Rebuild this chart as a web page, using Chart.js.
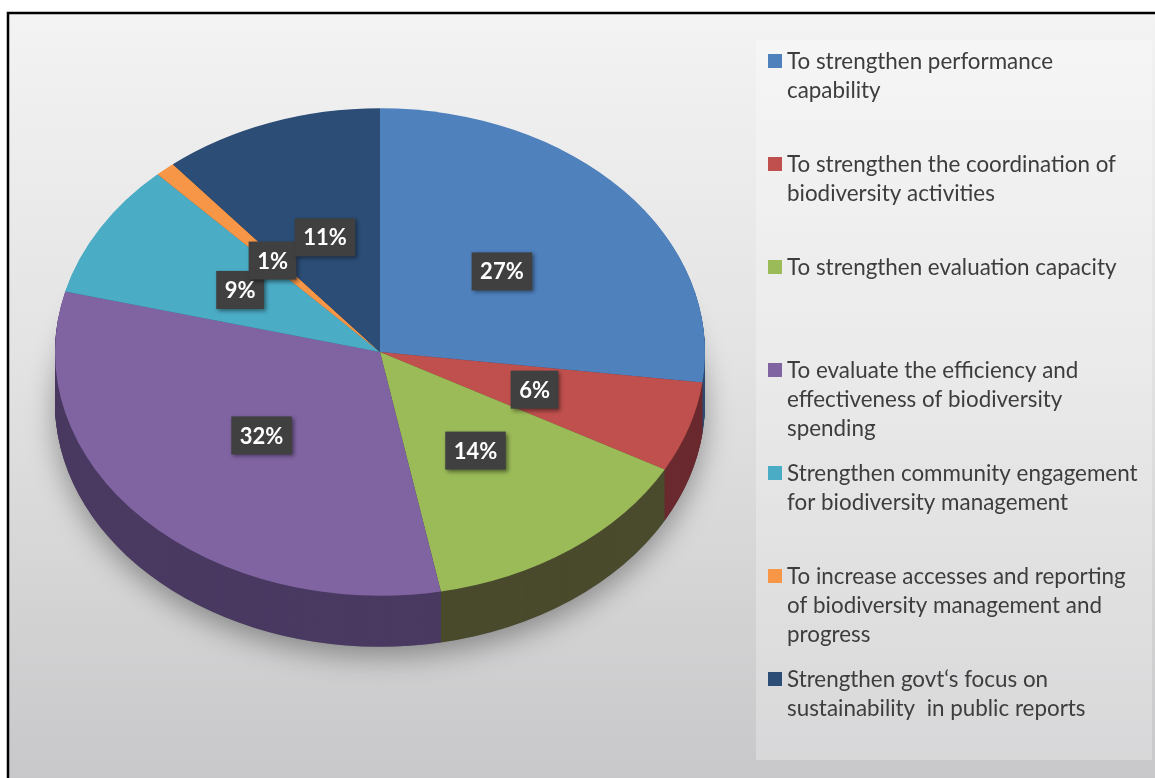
<!DOCTYPE html>
<html>
<head>
<meta charset="utf-8">
<script src="https://cdn.jsdelivr.net/npm/chart.js@4.4.1/dist/chart.umd.min.js"></script>
<style>
  html, body { margin: 0; padding: 0; background: #fff; }
  canvas { display: block; }
</style>
</head>
<body>
<canvas id="pieChart" width="1155" height="778"></canvas>
<script>
// 图例文字（已按原图换行）
const categories = [
    ['To strengthen performance', 'capability'],
    ['To strengthen the coordination of', 'biodiversity activities'],
    ['To strengthen evaluation capacity'],
    ['To evaluate the efficiency and', 'effectiveness of biodiversity', 'spending'],
    ['Strengthen community engagement', 'for biodiversity management'],
    ['To increase accesses and reporting', 'of biodiversity management and', 'progress'],
    ['Strengthen govt‘s focus on', 'sustainability  in public reports']
];
// 各项占比 (%)
const shares = [27, 6, 14, 32, 9, 1, 11];
const sliceColors = ['#4f81bd', '#c0504d', '#9bbb59', '#8064a2', '#4bacc6', '#f79646', '#2c4d75'];
const sideColors = ['#2f4c72', '#6a2a2f', '#4a4b2d', '#4a3a62', '#2c6474', '#8c5427', '#1c3049'];

const TILT = 0.75;    // 椭圆压扁比例
const DEPTH = 51;     // 侧面厚度（像素）

// 背景、边框和图例面板
function drawBackground(chart) {
    const ctx = chart.ctx;
    const w = chart.width, h = chart.height;
    ctx.save();
    ctx.fillStyle = '#ffffff';
    ctx.fillRect(0, 0, w, h);
    const grad = ctx.createLinearGradient(0, 13, 0, h);
    grad.addColorStop(0, '#f3f3f3');
    grad.addColorStop(0.45, '#e3e3e3');
    grad.addColorStop(1, '#c8c8ca');
    ctx.fillStyle = grad;
    ctx.fillRect(8, 13, w, h);
    // 图例面板
    ctx.fillStyle = 'rgba(255,255,255,0.28)';
    ctx.fillRect(756, 40, 396, 720);
    ctx.strokeStyle = '#000';
    ctx.lineWidth = 2.5;
    ctx.strokeRect(8, 13, w + 20, h + 20);
    ctx.restore();
}

const pie3d = {
    id: 'pie3d',
    beforeDraw(chart) {
        drawBackground(chart);
    },
    beforeDatasetsDraw(chart) {
        const ctx = chart.ctx;
        const arcs = chart.getDatasetMeta(0).data;
        const cx = arcs[0].x, cy = arcs[0].y, r = arcs[0].outerRadius;
        ctx.save();
        ctx.translate(cx, cy);
        ctx.scale(1, TILT);
        ctx.translate(-cx, -cy);
        const dy = DEPTH / TILT;

        // 底部阴影
        ctx.save();
        ctx.shadowColor = 'rgba(0,0,0,0.35)';
        ctx.shadowBlur = 28;
        ctx.shadowOffsetY = 10;
        ctx.fillStyle = '#777';
        ctx.beginPath();
        ctx.arc(cx, cy + dy, r, 0, Math.PI * 2);
        ctx.fill();
        ctx.restore();

        // 侧面：从最底层往上一层层画
        for (let d = dy; d > 0; d -= 1) {
            arcs.forEach((a, i) => {
                ctx.fillStyle = sideColors[i];
                ctx.beginPath();
                ctx.moveTo(cx, cy + d);
                ctx.arc(cx, cy + d, r, a.startAngle, a.endAngle);
                ctx.closePath();
                ctx.fill();
            });
        }
    },
    afterDatasetsDraw(chart) {
        const ctx = chart.ctx;
        ctx.restore();

        // 数据标签
        const arcs = chart.getDatasetMeta(0).data;
        ctx.save();
        ctx.font = 'bold 22px Lato';
        ctx.textAlign = 'center';
        ctx.textBaseline = 'middle';
        arcs.forEach((a, i) => {
            const mid = (a.startAngle + a.endAngle) / 2;
            const px = a.x + Math.cos(mid) * a.outerRadius * 0.5;
            const py = a.y + Math.sin(mid) * a.outerRadius * 0.5 * TILT;
            const text = shares[i] + '%';
            const tw = ctx.measureText(text).width;
            const bw = tw + 17, bh = 38;
            ctx.save();
            ctx.shadowColor = 'rgba(0,0,0,0.45)';
            ctx.shadowBlur = 4;
            ctx.shadowOffsetX = 2;
            ctx.shadowOffsetY = 2;
            ctx.fillStyle = '#404040';
            ctx.fillRect(px - bw / 2, py - bh / 2, bw, bh);
            ctx.restore();
            ctx.fillStyle = '#ffffff';
            ctx.fillText(text, px, py + 1);
        });
        ctx.restore();
    },
    afterDraw(chart) {
        // 右侧图例
        const ctx = chart.ctx;
        ctx.save();
        ctx.font = '22.4px Lato';
        ctx.textBaseline = 'alphabetic';
        ctx.textAlign = 'left';
        categories.forEach((lines, i) => {
            const top = 54 + i * 103;
            ctx.fillStyle = sliceColors[i];
            ctx.fillRect(768, top, 14, 14);
            ctx.fillStyle = '#3d3d3d';
            lines.forEach((line, j) => {
                ctx.fillText(line, 787, top + 15 + j * 29);
            });
        });
        ctx.restore();
    }
};

const chart = new Chart(document.getElementById('pieChart'), {
    type: 'pie',
    data: {
        labels: categories.map(l => l.join(' ')),
        datasets: [{
            data: shares,
            backgroundColor: sliceColors,
            borderWidth: 0,
            clip: false
        }]
    },
    options: {
        responsive: false,
        devicePixelRatio: 1,
        animation: false,
        events: [],
        layout: {
            padding: { left: 55, right: 450, top: 27, bottom: 101 }
        },
        plugins: {
            legend: { display: false },
            tooltip: { enabled: false }
        }
    },
    plugins: [pie3d]
});
</script>
</body>
</html>
